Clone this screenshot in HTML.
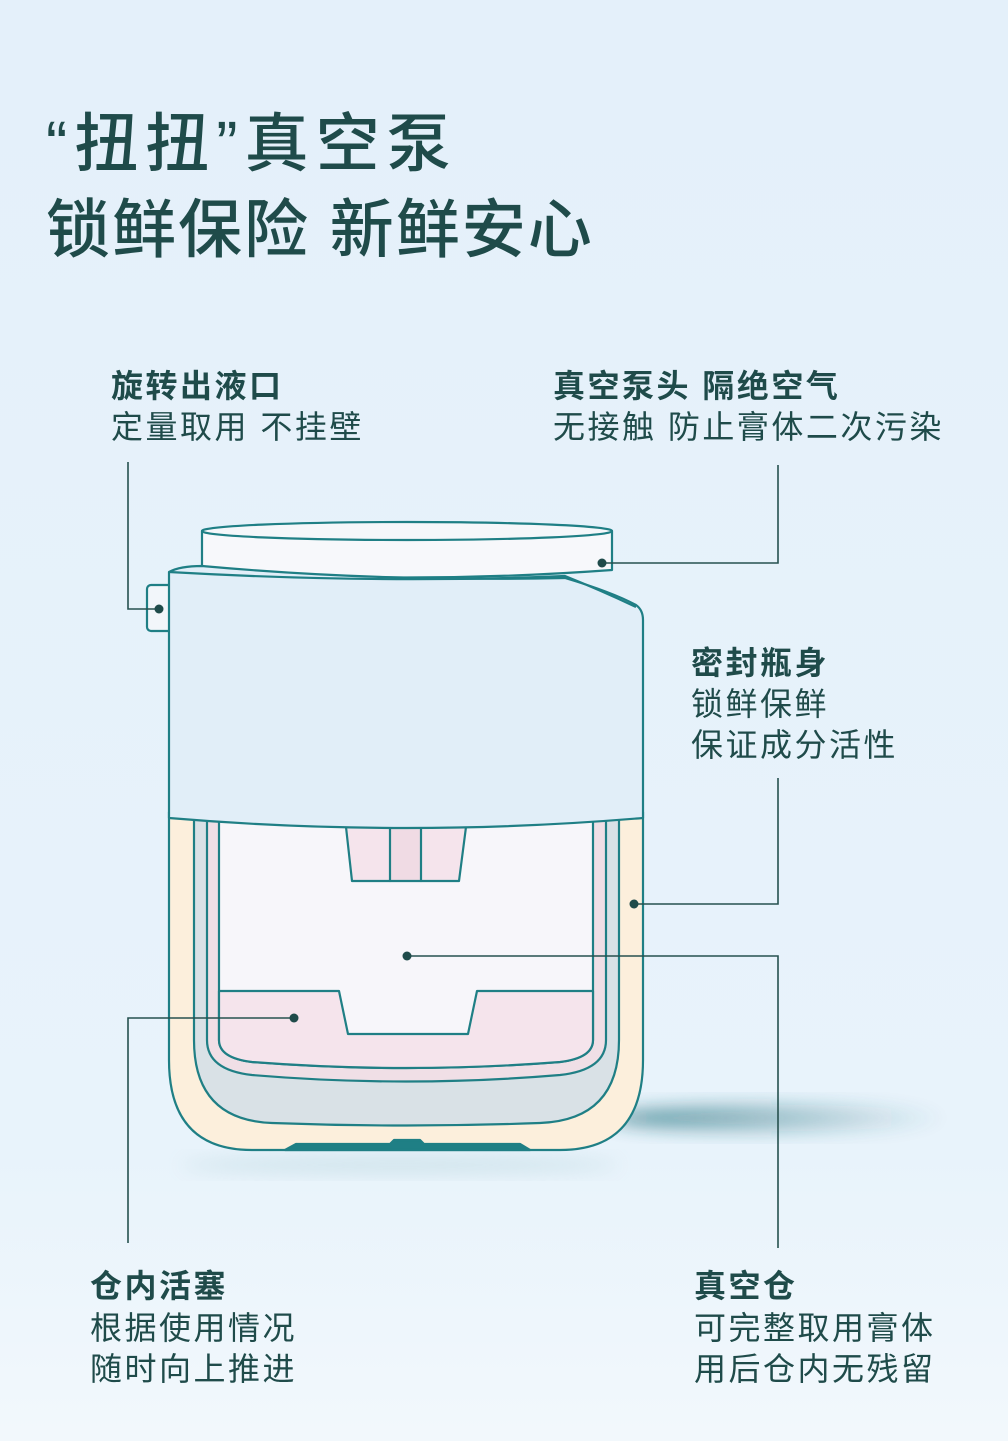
<!DOCTYPE html>
<html><head><meta charset="utf-8"><style>
html,body{margin:0;padding:0}
body{width:1008px;height:1441px;overflow:hidden;background:linear-gradient(#e4f0fa,#e8f3fb 80%,#f2f8fc);}
svg{display:block}
text{font-family:"Liberation Sans","Noto Sans CJK SC",sans-serif;fill:#1f4b4a}
.b{font-weight:bold;font-size:32px;letter-spacing:2.5px}
.r{font-size:32px;letter-spacing:2.5px}
</style></head><body>
<svg width="1008" height="1441" viewBox="0 0 1008 1441">
<defs>
<filter id="bl" x="-50%" y="-50%" width="200%" height="200%"><feGaussianBlur stdDeviation="9"/></filter>
<linearGradient id="sg" x1="0" x2="1"><stop offset="0" stop-color="#1d6b78" stop-opacity="0.9"/><stop offset="1" stop-color="#1d6b78" stop-opacity="0"/></linearGradient>
</defs>
<text x="46" y="166" font-size="64" font-weight="500" letter-spacing="7">“扭扭”真空泵</text>
<text x="46" y="252" font-size="64" font-weight="500" letter-spacing="2">锁鲜保险 新鲜安心</text>

<text class="b" x="111" y="397">旋转出液口</text>
<text class="r" x="111" y="438">定量取用 不挂壁</text>
<text class="b" x="553" y="397">真空泵头  隔绝空气</text>
<text class="r" x="553" y="438">无接触 防止膏体二次污染</text>
<text class="b" x="691" y="674">密封瓶身</text>
<text class="r" x="691" y="715">锁鲜保鲜</text>
<text class="r" x="691" y="756">保证成分活性</text>
<text class="b" x="90" y="1297">仓内活塞</text>
<text class="r" x="90" y="1339">根据使用情况</text>
<text class="r" x="90" y="1380">随时向上推进</text>
<text class="b" x="694" y="1297">真空仓</text>
<text class="r" x="694" y="1339">可完整取用膏体</text>
<text class="r" x="694" y="1380">用后仓内无残留</text>

<!-- shadow -->
<ellipse cx="780" cy="1118" rx="170" ry="13" fill="url(#sg)" opacity="0.8" filter="url(#bl)"/>
<ellipse cx="400" cy="1165" rx="220" ry="8" fill="#9cc4cc" opacity="0.35" filter="url(#bl)"/>

<g stroke="#1f7f85" stroke-width="2.2" stroke-linejoin="round">
<path d="M169 812 L643 812 L643 1060 Q643 1150 560 1150 L252 1150 Q169 1150 169 1060 Z" fill="#fcefdc"/>
<path d="M194 818 L619 818 L619 1040 Q619 1120 540 1123 Q406 1128 272 1123 Q194 1120 194 1040 Z" fill="#d9e1e6"/>
<path d="M207 818 L606 818 L606 1040 Q606 1070 560 1075 Q406 1088 252 1075 Q207 1070 207 1040 Z" fill="#f0dfe6"/>
<path d="M219 818 L593 818 L593 1040 Q593 1058 560 1062 Q406 1074 252 1062 Q219 1058 219 1040 Z" fill="#f7f6fa"/>
<path d="M219 991 L339 991 L348 1034 L468 1034 L477 991 L593 991 L593 1040 Q593 1058 560 1062 Q406 1074 252 1062 Q219 1058 219 1040 Z" fill="#f5e4ec"/>
<path d="M346 827 L466 827 L459 881 L421 881 Q406 876 390 881 L352 881 Z" fill="#f5e4ec"/>
<rect x="390" y="827" width="31" height="54" fill="#f0dbe4"/>
<path d="M285 1150 L296 1144 L390 1144 L394 1140 L420 1140 L424 1144 L520 1144 L530 1150 Z" fill="#1f7f85"/>
<rect x="147" y="585" width="26" height="46" rx="4" fill="#f2f6fa"/>
<path d="M202 531 L202 570 Q407 585 612 570 L612 531 Z" fill="#f7f8fb"/>
<ellipse cx="407" cy="531" rx="205" ry="9" fill="#f5f7fa"/>
<path d="M169 572 Q180 566 202 566 Q380 582 565 578 Q612 592 636 605 Q643 610 643 620 L643 818 Q406 838 169 818 Z" fill="#e1eef8"/>
<path d="M169 572 Q380 584 565 576 Q600 590 636 607" fill="none"/>
</g>

<g stroke="#26514f" stroke-width="1.6" fill="none">
<path d="M128 462 L128 609 L158 609"/>
<path d="M602 563 L778 563 L778 465"/>
<path d="M634 904 L778 904 L778 778"/>
<path d="M407 956 L778 956 L778 1248"/>
<path d="M294 1018 L128 1018 L128 1243"/>
</g>
<g fill="#1f4b4a">
<circle cx="159" cy="609" r="4.5"/>
<circle cx="602" cy="563" r="4.5"/>
<circle cx="634" cy="904" r="4.5"/>
<circle cx="407" cy="956" r="4.5"/>
<circle cx="294" cy="1018" r="4.5"/>
</g>
</svg>
</body></html>
